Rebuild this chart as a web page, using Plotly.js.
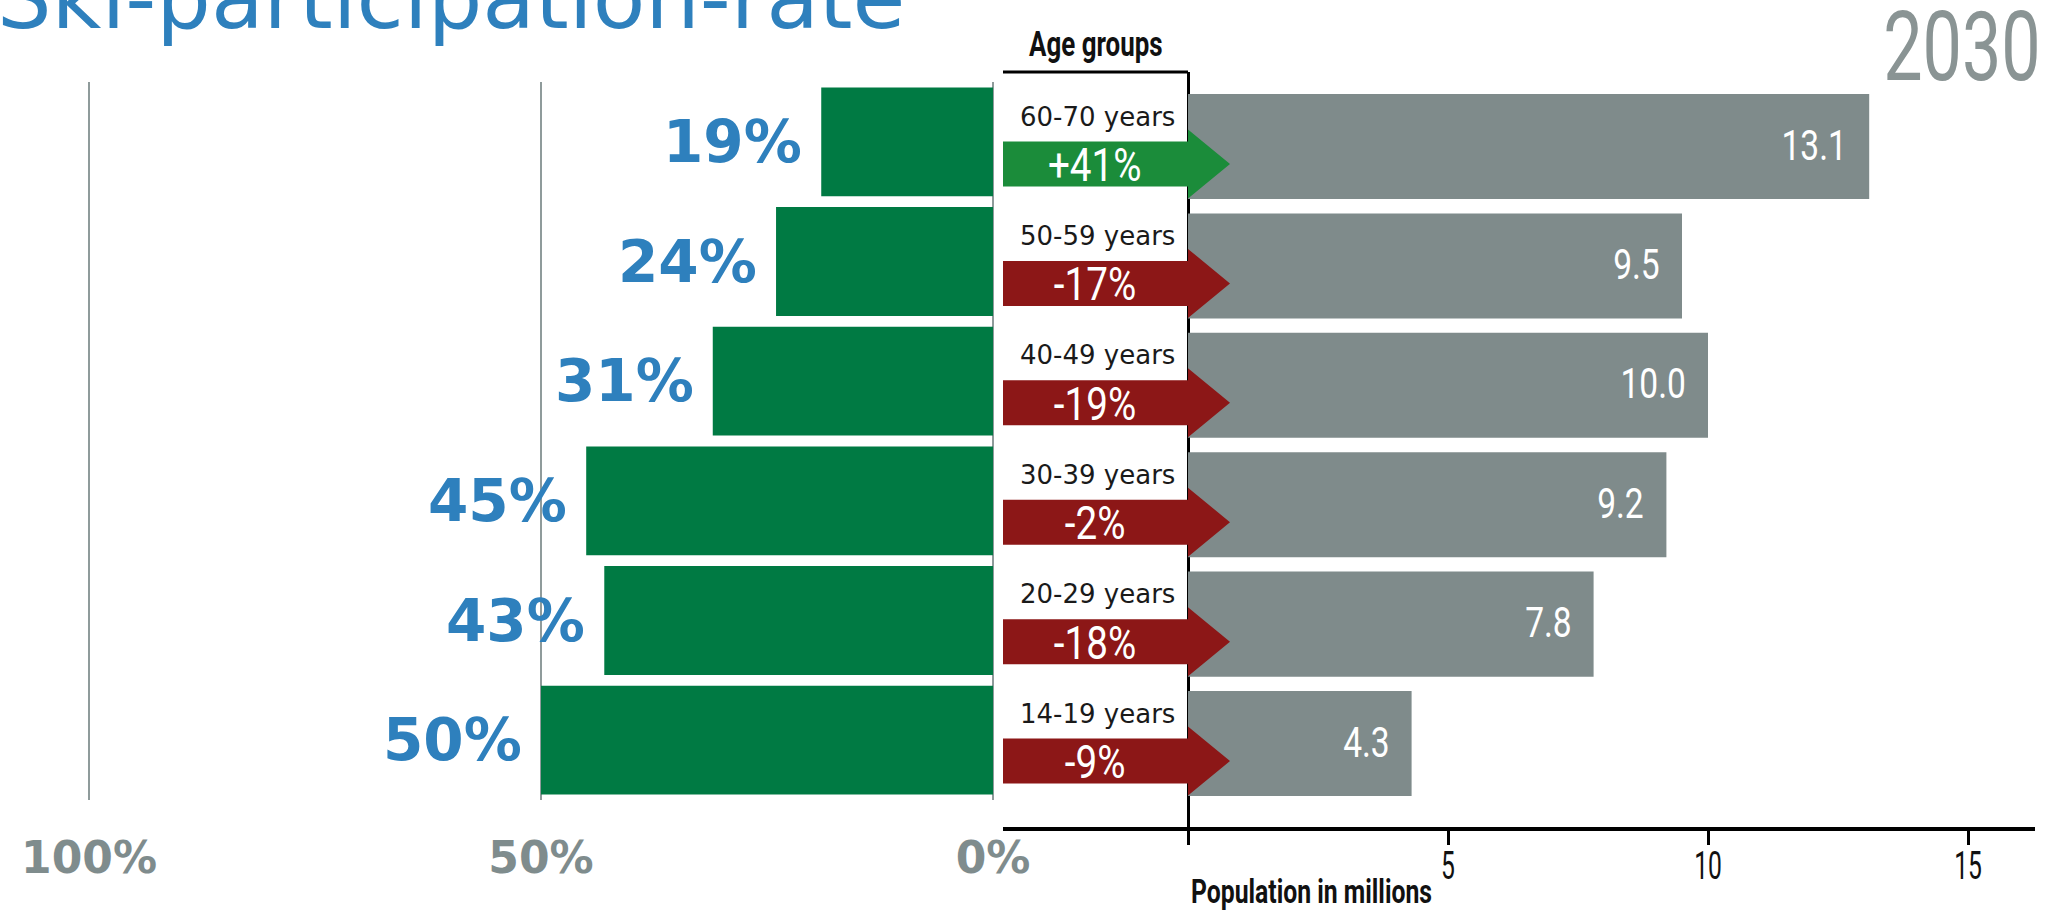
<!DOCTYPE html>
<html><head><meta charset="utf-8">
<script src="https://cdn.plot.ly/plotly-3.0.1.min.js"></script>
<style>html,body{margin:0;padding:0;background:#fff;overflow:hidden}#chart{width:2052px;height:910px}</style>
</head><body><div id="chart"></div>
<script>
// ---- data ----
const ageGroups = ['14-19 years', '20-29 years', '30-39 years', '40-49 years', '50-59 years', '60-70 years'];
const skiParticipation = [50, 43, 45, 31, 24, 19];          // % ski participation rate
const population2030 = [4.3, 7.8, 9.2, 10.0, 9.5, 13.1];    // population in millions, 2030
const populationChange = [-9, -18, -2, -19, -17, 41];       // % change
const participationTicks = [100, 50, 0];
const participationTickText = ['100%', '50%', '0%'];
const populationTicks = [0, 5, 10, 15];
const populationTickText = ['', '5', '10', '15'];
const titleText = 'Ski-participation-rate';
const yearText = '2030';
const ageHeader = 'Age groups';
const popAxisTitle = 'Population in millions';

const SANS = 'DejaVu Sans, Verdana, sans-serif';
const COND = 'Roboto, Liberation Sans, sans-serif';   // drawn horizontally condensed afterwards

// ---- geometry (pixels -> axis units) ----
const X2PX = 52;            // px per million
const X2START = -185 / X2PX;
const X2END = 847 / X2PX;
const ROWPX = 119.4;        // px per category on right panel

const GREEN = '#007a43', BLUE = '#2e80bd', GREYTXT = '#7f8c8d', GREYBAR = '#7f8b8b';
const ARROW_UP = '#1b8c3a', ARROW_DOWN = '#8c1717';

const traces = [
  {
    type: 'bar', orientation: 'h', x: skiParticipation, y: ageGroups,
    xaxis: 'x', yaxis: 'y', width: 0.91,
    marker: { color: GREEN, line: { width: 0 } }, hoverinfo: 'skip'
  },
  {
    type: 'bar', orientation: 'h', x: population2030, y: ageGroups,
    xaxis: 'x2', yaxis: 'y2', width: 0.88,
    marker: { color: GREYBAR, line: { width: 0 } }, hoverinfo: 'skip'
  }
];

const annotations = [];
const condenseSpec = [];   // per annotation: null or {sx, anchor}
function addAnn(a, spec) { annotations.push(a); condenseSpec.push(spec || null); }

// participation labels
skiParticipation.forEach((v, i) => {
  addAnn({
    x: v, y: ageGroups[i], xref: 'x', yref: 'y', xanchor: 'right', yanchor: 'middle',
    xshift: -17, showarrow: false, text: v + '%',
    font: { family: SANS, size: 58, color: BLUE, weight: 'bold' }
  });
});
// population value labels
population2030.forEach((v, i) => {
  addAnn({
    x: v, y: ageGroups[i], xref: 'x2', yref: 'y2', xanchor: 'right', yanchor: 'middle',
    xshift: -20, yshift: 2, showarrow: false, text: v.toFixed(1),
    font: { family: COND, size: 43, color: '#ffffff' }
  }, { sx: 0.78, anchor: 'right' });
});
// age labels and change labels
ageGroups.forEach((g, i) => {
  addAnn({
    x: -1.75, y: g, xref: 'x2', yref: 'y2', xanchor: 'center', yanchor: 'middle',
    yshift: 30, showarrow: false, text: g,
    font: { family: SANS, size: 26, color: '#1a1a1a' }
  });
  const ch = populationChange[i];
  addAnn({
    x: -1.79, y: g, xref: 'x2', yref: 'y2', xanchor: 'center', yanchor: 'middle',
    yshift: -18.5, showarrow: false, text: (ch > 0 ? '+' : '') + ch + '%',
    font: { family: COND, size: 46, color: '#ffffff' }
  }, { sx: 0.84, anchor: 'middle' });
});
addAnn({ x: -5 / 2052, y: 1 + 2 / 910, xref: 'paper', yref: 'paper', xanchor: 'left', yanchor: 'middle',
  showarrow: false, text: titleText, font: { family: SANS, size: 86, color: BLUE } });
addAnn({ x: 1962 / 2052, y: 1 - 47 / 910, xref: 'paper', yref: 'paper', xanchor: 'center', yanchor: 'middle',
  showarrow: false, text: yearText, font: { family: COND, size: 96, color: '#8a9494' } },
  { sx: 0.73, anchor: 'middle' });
addAnn({ x: 1096 / 2052, y: 1 - 44 / 910, xref: 'paper', yref: 'paper', xanchor: 'center', yanchor: 'middle',
  showarrow: false, text: ageHeader, font: { family: COND, size: 36, color: '#111', weight: 'bold' } },
  { sx: 0.72, anchor: 'middle' });
addAnn({ x: 0, y: 1 - 891 / 910, xref: 'x2', yref: 'paper', xanchor: 'left', yanchor: 'middle', xshift: 1,
  showarrow: false, text: popAxisTitle, font: { family: COND, size: 33, color: '#111', weight: 'bold' } },
  { sx: 0.75, anchor: 'left' });

// arrows (one per age group, coloured by sign of change)
const shapes = [];
ageGroups.forEach((g, i) => {
  const rt = i + 5 / ROWPX, rb = i - 40 / ROWPX;
  const ht = i + 17 / ROWPX, hb = i - 52 / ROWPX, tipY = i - 17.5 / ROWPX;
  const tipX = 42 / X2PX;
  const p = `M ${X2START} ${rt} L 0 ${rt} L 0 ${ht} L ${tipX} ${tipY} L 0 ${hb} L 0 ${rb} L ${X2START} ${rb} Z`;
  shapes.push({
    type: 'path', xref: 'x2', yref: 'y2', path: p, layer: 'above',
    fillcolor: populationChange[i] > 0 ? ARROW_UP : ARROW_DOWN, line: { width: 0 }
  });
});
shapes.push({
  type: 'line', xref: 'x2', yref: 'y2 domain', x0: X2START, x1: 0, y0: 1, y1: 1,
  line: { color: '#000', width: 3 }, layer: 'above'
});

const layout = {
  width: 2052, height: 910, margin: { l: 0, r: 0, t: 0, b: 0 },
  paper_bgcolor: '#ffffff', plot_bgcolor: 'rgba(0,0,0,0)', showlegend: false,
  xaxis: {
    domain: [0, 995 / 2052], range: [993 / 9.04, -2 / 9.04], tickmode: 'array',
    tickvals: participationTicks, ticktext: participationTickText,
    showgrid: true, gridcolor: '#8f9b9b', gridwidth: 2, zeroline: false, showline: false,
    ticks: '', ticklabelstandoff: 28,
    tickfont: { family: SANS, size: 44, color: GREYTXT, weight: 'bold' }
  },
  yaxis: {
    domain: [1 - 800 / 910, 1 - 82 / 910], type: 'category', categoryorder: 'array',
    categoryarray: ageGroups, range: [-0.5, 5.5], showticklabels: false,
    showgrid: false, zeroline: false, showline: false, ticks: ''
  },
  xaxis2: {
    anchor: 'y2', domain: [1003 / 2052, 2035 / 2052], range: [X2START, X2END],
    tickmode: 'array', tickvals: populationTicks, ticktext: populationTickText,
    showline: true, linecolor: '#000', linewidth: 4,
    ticks: 'outside', ticklen: 14, tickwidth: 3, tickcolor: '#000', ticklabelstandoff: -12,
    zeroline: true, zerolinecolor: '#000', zerolinewidth: 3, showgrid: false,
    tickfont: { family: COND, size: 38, color: '#111' }
  },
  yaxis2: {
    anchor: 'x2', domain: [1 - 827 / 910, 1 - 72 / 910], type: 'category', categoryorder: 'array',
    categoryarray: ageGroups, range: [-0.699, 5.624], showticklabels: false,
    showgrid: false, zeroline: false, showline: false, ticks: ''
  },
  annotations: annotations, shapes: shapes
};

function condense(el, sx, anchor) {
  const bb = el.getBBox();
  const cx = anchor === 'left' ? bb.x : anchor === 'right' ? bb.x + bb.width : bb.x + bb.width / 2;
  const prev = el.getAttribute('transform') || '';
  el.setAttribute('transform', prev + ` translate(${cx},0) scale(${sx},1) translate(${-cx},0)`);
}

Plotly.newPlot('chart', traces, layout, { staticPlot: true, displayModeBar: false }).then(gd => {
  gd.querySelectorAll('g.annotation').forEach(g => {
    const idx = +g.getAttribute('data-index');
    const spec = condenseSpec[idx];
    if (!spec) return;
    const t = g.querySelector('text.annotation-text');
    if (t) condense(t, spec.sx, spec.anchor);
  });
  gd.querySelectorAll('g.x2tick text').forEach(t => condense(t, 0.65, 'middle'));
});
</script>
</body></html>
